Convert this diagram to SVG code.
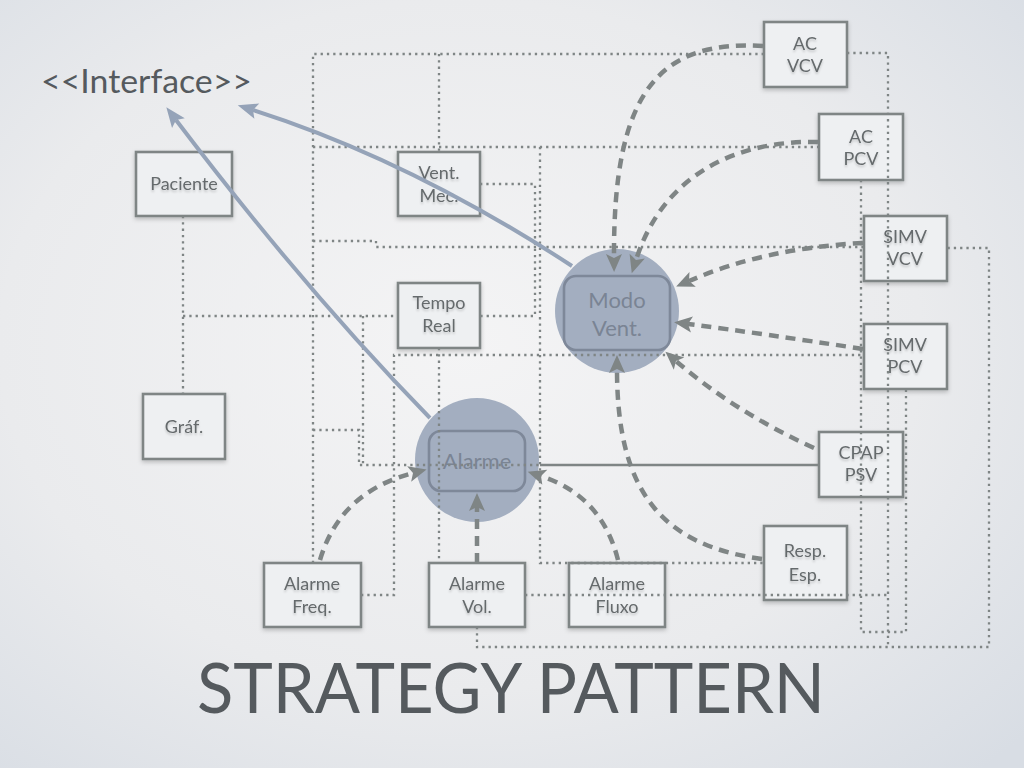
<svg xmlns="http://www.w3.org/2000/svg" width="1024" height="768" viewBox="0 0 1024 768">
<defs>
<radialGradient id="bg" cx="45%" cy="45%" r="75%">
<stop offset="0" stop-color="#f4f4f5"/>
<stop offset="0.6" stop-color="#eaebed"/>
<stop offset="1" stop-color="#d8dde4"/>
</radialGradient>
<filter id="sh" x="-20%" y="-20%" width="140%" height="150%">
<feDropShadow dx="0" dy="2" stdDeviation="2" flood-color="#000" flood-opacity="0.22"/>
</filter>
<filter id="tsh" x="-10%" y="-20%" width="120%" height="160%">
<feDropShadow dx="0" dy="2" stdDeviation="1.2" flood-color="#000" flood-opacity="0.18"/>
</filter>
<marker id="ag" markerUnits="userSpaceOnUse" markerWidth="24" markerHeight="24" viewBox="-2 -10 24 20" refX="4" refY="0" orient="auto">
<path d="M0,-8 L18,0 L0,8 L4,0 Z" fill="#7f8585"/>
</marker>
<marker id="ab" markerUnits="userSpaceOnUse" markerWidth="26" markerHeight="24" viewBox="-2 -10 26 20" refX="4" refY="0" orient="auto">
<path d="M0,-8 L20,0 L0,8 L4,0 Z" fill="#95a3b8"/>
</marker>
<style>
.box{fill:#eef0f2;stroke:#7f8585;stroke-width:2.6;filter:url(#sh)}
.t{font-family:Lato,"Open Sans","Liberation Sans",sans-serif;font-size:18px;fill:#656a6c;text-anchor:middle;filter:url(#tsh)}
.ct{font-family:Lato,"Open Sans","Liberation Sans",sans-serif;font-size:22px;fill:#7a8494;text-anchor:middle}
.circ{fill:#a3aec0}
.rr{fill:none;stroke:#7e8899;stroke-width:2.6}
.dot{fill:none;stroke:#7f8585;stroke-width:2.3;stroke-dasharray:2.3 4}
.dash{fill:none;stroke:#7f8585;stroke-width:4.5;stroke-dasharray:10 7;marker-end:url(#ag)}
.blue{fill:none;stroke:#95a3b8;stroke-width:4;marker-end:url(#ab)}
.solid{fill:none;stroke:#7f8585;stroke-width:2.6}
</style>
</defs>
<rect width="1024" height="768" fill="url(#bg)"/>

<text x="41" y="93" font-family="Lato,'Open Sans','Liberation Sans',sans-serif" font-size="32" fill="#555a5e" textLength="211" lengthAdjust="spacingAndGlyphs">&lt;&lt;Interface&gt;&gt;</text>
<text x="197" y="713" font-family="Lato,'Open Sans','Liberation Sans',sans-serif" font-size="70" fill="#555a5e" textLength="628" lengthAdjust="spacingAndGlyphs">STRATEGY PATTERN</text>

<g id="modo-vent">
<circle class="circ" cx="617" cy="311" r="62"/>
<rect class="rr" x="564" y="276" width="106" height="74" rx="12"/>
<text class="ct" x="617" y="308">Modo</text>
<text class="ct" x="617" y="336">Vent.</text>
</g>
<g id="alarme">
<circle class="circ" cx="477" cy="460" r="62"/>
<rect class="rr" x="429" y="431" width="96" height="60" rx="12"/>
<text class="ct" x="477" y="469">Alarme</text>
</g>

<g id="paciente"><rect class="box" x="136" y="152" width="96" height="64"/><text class="t" x="184" y="190">Paciente</text></g>
<g id="graf"><rect class="box" x="143" y="394" width="82" height="65"/><text class="t" x="184" y="433">Gráf.</text></g>
<g id="vent-mec"><rect class="box" x="398" y="152" width="82" height="64"/><text class="t" x="439" y="179">Vent.</text><text class="t" x="439" y="202">Mec.</text></g>
<g id="tempo-real"><rect class="box" x="398" y="283" width="82" height="65"/><text class="t" x="439" y="309">Tempo</text><text class="t" x="439" y="332">Real</text></g>
<g id="ac-vcv"><rect class="box" x="764" y="22" width="83" height="65"/><text class="t" x="805" y="50">AC</text><text class="t" x="805" y="72">VCV</text></g>
<g id="ac-pcv"><rect class="box" x="819" y="114" width="84" height="66"/><text class="t" x="861" y="143">AC</text><text class="t" x="861" y="165">PCV</text></g>
<g id="simv-vcv"><rect class="box" x="864" y="216" width="83" height="65"/><text class="t" x="905" y="243">SIMV</text><text class="t" x="905" y="265">VCV</text></g>
<g id="simv-pcv"><rect class="box" x="864" y="324" width="83" height="65"/><text class="t" x="905" y="351">SIMV</text><text class="t" x="905" y="373">PCV</text></g>
<g id="cpap-psv"><rect class="box" x="819" y="432" width="84" height="65"/><text class="t" x="861" y="459">CPAP</text><text class="t" x="861" y="481">PSV</text></g>
<g id="resp-esp"><rect class="box" x="764" y="526" width="83" height="74"/><text class="t" x="805" y="557">Resp.</text><text class="t" x="805" y="581">Esp.</text></g>
<g id="alarme-freq"><rect class="box" x="264" y="563" width="97" height="64"/><text class="t" x="312" y="590">Alarme</text><text class="t" x="312" y="613">Freq.</text></g>
<g id="alarme-vol"><rect class="box" x="429" y="563" width="96" height="64"/><text class="t" x="477" y="590">Alarme</text><text class="t" x="477" y="613">Vol.</text></g>
<g id="alarme-fluxo"><rect class="box" x="569" y="563" width="96" height="64"/><text class="t" x="617" y="590">Alarme</text><text class="t" x="617" y="613">Fluxo</text></g>

<g id="connectors">
<path class="dot" d="M183 216 V394"/>
<path class="dot" d="M183 316 H398"/>
<path class="dot" d="M363 316 V465"/>
<path class="dot" d="M313 563 V54 H764"/>
<path class="dot" d="M439 54 V152"/>
<path class="dot" d="M313 147 H819"/>
<path class="dot" d="M540 147 V563 H764"/>
<path class="dot" d="M480 184 H535 V316 H480"/>
<path class="dot" d="M313 241 H376 V247 H864"/>
<path class="dot" d="M439 348 V563"/>
<path class="dot" d="M361 595 H394 V355 H864"/>
<path class="dot" d="M313 430 H359 V465 H540"/>
<path class="dot" d="M525 595 H888"/>
<path class="dot" d="M847 53 H888 V647"/>
<path class="dot" d="M477 627 V647 H989 V248 H947"/>
<path class="dot" d="M861 180 V632 H906 V389"/>
<path class="solid" d="M540 465 H819"/>

<path class="dash" d="M763 46 C660 40 613 90 614 258"/>
<path class="dash" d="M818 142 C740 140 664 172 636 260"/>
<path class="dash" d="M863 243 Q765 248 689 281"/>
<path class="dash" d="M863 349 Q765 334 688 324"/>
<path class="dash" d="M814 448 Q735 412 676 361"/>
<path class="dash" d="M762 559 C660 545 617 490 617 369"/>
<path class="dash" d="M320 560 Q340 492 413 473"/>
<path class="dash" d="M477 563 L477 507"/>
<path class="dash" d="M618 560 Q602 496 541 476"/>

<path class="blue" d="M572 266 Q410 160 253 110"/>
<path class="blue" d="M430 418 Q305 290 176 120"/>
</g>
</svg>
